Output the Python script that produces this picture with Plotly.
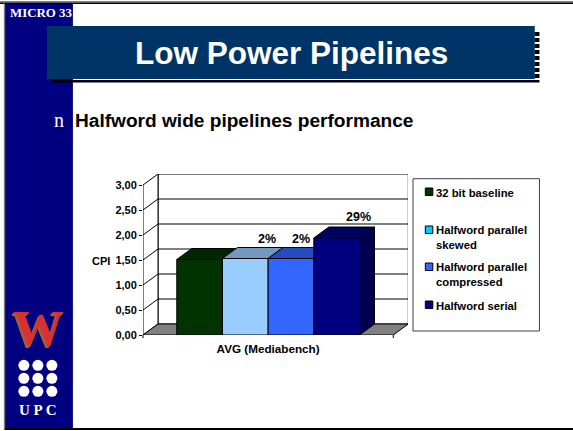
import plotly.graph_objects as go

# ---- data ----
category = ["AVG (Mediabench)"]
series_names = ["32 bit baseline", "Halfword parallel skewed", "Halfword parallel compressed", "Halfword serial"]
cpi_values = [1.51, 1.53, 1.53, 1.94]
point_labels = ["", "2%", "2%", "29%"]
y_tickvals = [0, 0.5, 1, 1.5, 2, 2.5, 3]
y_ticktext = ["0,00", "0,50", "1,00", "1,50", "2,00", "2,50", "3,00"]
legend_lines = ["32 bit baseline", "Halfword parallel<br>skewed", "Halfword parallel<br>compressed", "Halfword serial"]

# ---- style ----
front = ["#003300", "#99CCFF", "#3366FF", "#000080"]
tops = ["#002600", "#7399BF", "#264DBF", "#000060"]
sides = ["#002600", "#7399BF", "#264DBF", "#000050"]
swatch = ["#003300", "#00CCFF", "#3366FF", "#000080"]
label_shift_px = [0, 22, 10, 22]
W, H = 573, 431
L, R, T, B = 143, 407.7, 174, 335
SLOT = 250.0
UNIT = 50.0
DX, DY = 15 / SLOT, 11 / UNIT
GAP = 0.27
XMIN, XMAX = -0.5, -0.5 + (R - L) / SLOT
YMAX = (B - T) / UNIT
SANS = "Liberation Sans"
SERIF = "Liberation Serif"


def px(x):
    return (x - L) / (R - L)


def py(y):
    return (B - y) / (B - T)


def poly(points):
    return "M " + " L ".join(f"{a:.4f},{b:.4f}" for a, b in points) + " Z"


shapes = []


def data_shape(points, fill, line="#000000", width=1):
    shapes.append(dict(type="path", xref="x", yref="y", layer="below", path=poly(points),
                       fillcolor=fill, line=dict(color=line, width=width)))


def rect(x0, y0, x1, y1, fill, line=None, lw=0, layer="below"):
    shapes.append(dict(type="rect", xref="paper", yref="paper", layer=layer,
                       x0=px(x0), x1=px(x1), y0=py(y0), y1=py(y1), fillcolor=fill,
                       line=dict(color=line or fill, width=lw)))


# slide decoration (pixels of the slide, not chart data)
rect(0, 0, W, H, "#FFFFFF")
rect(0, 1, W, 2.5, "#7F7F7F")
rect(0, 2.5, W, 4, "#000000")
rect(4, 1, 5, 430, "#7F7F7F")
rect(5, 2.5, 6, 430, "#000000")
rect(6, 4, 73, 429, "#000080")
rect(5, 428, W, 430, "#000000")
rect(52, 80, 539, 82.5, "#000000")
for s in range(8):
    rect(534, 32 + s * 6, 539, 36 + s * 6, "#000000")
rect(47, 26, 534.3, 79, "#003366")
for cx in (24, 38, 52):
    for cy in (365.3, 378.3, 391.3):
        shapes.append(dict(type="circle", xref="paper", yref="paper", layer="below",
                           x0=px(cx - 5.5), x1=px(cx + 5.5), y0=py(cy - 5.5), y1=py(cy + 5.5),
                           fillcolor="#FFFFFF", line=dict(width=0)))

# chart walls
x0, x1 = -0.5, 0.5
data_shape([(x0 + DX, DY), (x1 + DX, DY), (x1 + DX, 3 + DY), (x0 + DX, 3 + DY)], "#FFFFFF")
data_shape([(x0, 0), (x0 + DX, DY), (x0 + DX, 3 + DY), (x0, 3)], "#FFFFFF")
for v in y_tickvals[1:-1]:
    shapes.append(dict(type="line", xref="x", yref="y", layer="below", x0=x0, y0=v, x1=x0 + DX, y1=v + DY,
                       line=dict(color="#000000", width=1)))
    shapes.append(dict(type="line", xref="x", yref="y", layer="below", x0=x0 + DX, y0=v + DY, x1=x1 + DX, y1=v + DY,
                       line=dict(color="#000000", width=1)))
data_shape([(x0, 0), (x1, 0), (x1 + DX, DY), (x0 + DX, DY)], "#808080")
rect(142.5, 335, 143.5, 338, "#000000")
rect(392.5, 335, 393.5, 338, "#000000")

# 3-D faces of the bars
bw = (1 - GAP) / len(cpi_values)
for i, v in enumerate(cpi_values):
    a = -0.5 + GAP / 2 + i * bw
    b = a + bw
    data_shape([(a, v), (b, v), (b + DX, v + DY), (a + DX, v + DY)], tops[i])
    data_shape([(b, 0), (b, v), (b + DX, v + DY), (b + DX, DY)], sides[i])

# legend frame and swatches
rect(412.7, 178.7, 539, 331, "#FFFFFF", "#404040", 1)
for i, yc in enumerate((192, 230, 267, 305)):
    rect(425, yc - 4, 432.5, yc + 3.5, swatch[i], "#000000", 1)

annotations = []


def note(x, y, text, size, color="#000000", font=SANS, bold=True, anchor="center", shadow=None):
    t = f"<b>{text}</b>" if bold else text
    f = dict(family=font, size=size, color=color)
    if shadow:
        f["shadow"] = shadow
    annotations.append(dict(xref="paper", yref="paper", x=px(x), y=py(y), text=t, showarrow=False,
                            xanchor=anchor, yanchor="middle", align="left", font=f))


note(291, 53, "Low Power Pipelines", 31.5, "#FFFFFF")
note(73, 120.5, "Halfword wide pipelines performance", 19.1, anchor="left")
note(59, 119.5, "n", 20, "#FFFFFF", SERIF, False)
note(41, 13, "MICRO 33", 12.9, "#FFFFFF", SERIF)
note(38.5, 328, "W", 51, "#D93030", SERIF, shadow="-1px 1px 0 #A0603A, -2px 2px 0 #A0603A")
note(38.5, 410, "U P C", 15, "#FFFFFF", SERIF)
note(101, 261, "CPI", 11)
for i, text in enumerate(legend_lines):
    yc = (192.5, 237, 274.5, 305.5)[i]
    annotations.append(dict(xref="paper", yref="paper", x=px(433.5), y=py(yc), text=f"<b>{text}</b>",
                            showarrow=False, xanchor="left", yanchor="middle", align="left",
                            font=dict(family=SANS, size=11.3, color="#000000")))
for i, text in enumerate(point_labels):
    if text:
        a = -0.5 + GAP / 2 + i * bw
        annotations.append(dict(xref="x", yref="y", x=a + bw / 2 + label_shift_px[i] / SLOT,
                                y=cpi_values[i] + (0.39 if i < 3 else 0.43),
                                text=f"<b>{text}</b>", showarrow=False,
                                font=dict(family=SANS, size=12.5, color="#000000")))

fig = go.Figure()
for i, name in enumerate(series_names):
    fig.add_trace(go.Bar(name=name, x=category, y=[cpi_values[i]],
                         marker=dict(color=front[i], line=dict(color="#000000", width=1))))

fig.update_layout(
    width=W, height=H, autosize=False, showlegend=False, barmode="group", bargap=GAP, bargroupgap=0,
    margin=dict(l=L, r=W - R, t=T, b=H - B), paper_bgcolor="#FFFFFF", plot_bgcolor="rgba(0,0,0,0)",
    shapes=shapes, annotations=annotations,
    font=dict(family=SANS, size=11, color="#000000"),
    xaxis=dict(type="category", range=[XMIN, XMAX], showgrid=False, zeroline=False, showline=False, ticks="",
               tickfont=dict(family=SANS, size=11.7, color="#000000"), tickprefix="<b>", ticksuffix="</b>", ticklabelstandoff=5),
    yaxis=dict(range=[0, YMAX], tickvals=y_tickvals, ticktext=[f"<b>{t}</b>" for t in y_ticktext], showgrid=False,
               zeroline=False, showline=False, ticks="outside", ticklen=3, tickcolor="#000000",
               tickfont=dict(family=SANS, size=11, color="#000000")),
)
fig.write_html("out.html", config={"displayModeBar": False},
               post_script="document.body.style.margin='0';document.documentElement.style.overflow='hidden';")
